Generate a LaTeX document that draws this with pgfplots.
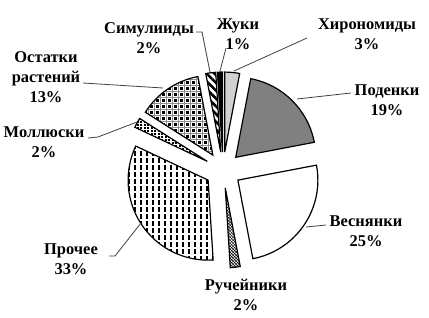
\documentclass[border=0pt]{standalone}
\usepackage{pgfplots}
\pgfplotsset{compat=1.18}
\usepackage{pgfplotstable}
\usepackage{fontspec}
\setmainfont{Liberation Serif}
\usetikzlibrary{patterns,patterns.meta}

\pgfdeclarepatternformonly{vdash}{\pgfpoint{-1bp}{-1bp}}{\pgfpoint{7bp}{8bp}}{\pgfpoint{6bp}{7bp}}{%
  \pgfsetlinewidth{1.1bp}%
  \pgfpathmoveto{\pgfpoint{3bp}{1bp}}\pgfpathlineto{\pgfpoint{3bp}{5.5bp}}\pgfusepath{stroke}}
\pgfdeclarepatternformonly{mdots}{\pgfpoint{-1bp}{-1bp}}{\pgfpoint{4bp}{4bp}}{\pgfpoint{3.5bp}{3bp}}{%
  \pgfpathrectangle{\pgfpoint{0bp}{0bp}}{\pgfpoint{2.2bp}{1.6bp}}\pgfusepath{fill}}
\pgfdeclarepatterninherentlycolored{plaid}{\pgfpoint{-1bp}{-1bp}}{\pgfpoint{7bp}{7bp}}{\pgfpoint{6bp}{6bp}}{%
  \pgfsetfillcolor{black}%
  \pgfpathrectangle{\pgfpoint{0bp}{0bp}}{\pgfpoint{3bp}{3bp}}\pgfusepath{fill}%
  \pgfsetstrokecolor{black!45}\pgfsetlinewidth{0.9bp}%
  \pgfpathmoveto{\pgfpoint{-1bp}{4.5bp}}\pgfpathlineto{\pgfpoint{7bp}{4.5bp}}\pgfusepath{stroke}%
  \pgfpathmoveto{\pgfpoint{4.5bp}{-1bp}}\pgfpathlineto{\pgfpoint{4.5bp}{7bp}}\pgfusepath{stroke}}

\pgfplotstableread[col sep=comma]{
name,value,explode
Хирономиды,3,18
Поденки,19,18
Веснянки,25,18
Ручейники,2,18
Прочее,33,18
Моллюски,2,18
Остатки растений,13,18
Симулииды,2,18
Жуки,1,18
}\piedata

\tikzset{
  s0/.style={fill=black!18},
  s1/.style={fill=black!50},
  s2/.style={fill=white},
  s3/.style={pattern=crosshatch},
  s4/.style={pattern=vdash},
  s5/.style={pattern=mdots},
  s6/.style={pattern=plaid},
  s7/.style={pattern={Lines[angle=-45,distance=5.5bp,line width=2.6bp]}},
  s8/.style={fill=black},
  lbl/.style={font=\bfseries\fontsize{16.5}{20}\selectfont, align=center, inner sep=0pt},
  lead/.style={draw=black!75, line width=0.8bp},
}

\begin{document}
\begin{tikzpicture}
\gdef\cum{0}
\foreach \i in {0,...,8}{%
  \pgfplotstablegetelem{\i}{value}\of\piedata
  \let\v\pgfplotsretval
  \pgfplotstablegetelem{\i}{explode}\of\piedata
  \let\e\pgfplotsretval
  \pgfmathsetmacro\a{90-3.6*\cum}%
  \pgfmathsetmacro\newcum{\cum+\v}%
  \pgfmathsetmacro\b{90-3.6*\newcum}%
  \expandafter\xdef\csname sa\i\endcsname{\a}%
  \expandafter\xdef\csname sb\i\endcsname{\b}%
  \expandafter\xdef\csname se\i\endcsname{\e}%
  \xdef\cum{\newcum}%
}
\begin{axis}[
  x=1bp, y=1bp, y dir=reverse,
  xmin=0, xmax=429, ymin=0, ymax=318,
  hide axis, clip=false, scale only axis,
]
\path (axis cs:0,0) -- (axis cs:429,318);
\pgfplotsinvokeforeach{0,1,2,3,4,5,6,7,8}{%
  \draw[line width=1.2bp, s#1,
        shift={({(\csname sa#1\endcsname+\csname sb#1\endcsname)/2}:\csname se#1\endcsname bp)}]
    (axis cs:223,170) -- ++(\csname sa#1\endcsname:80bp)
    arc[start angle=\csname sa#1\endcsname, end angle=\csname sb#1\endcsname, radius=80bp] -- cycle;
}
% leader lines
\draw[lead] (axis cs:307,38) -- (axis cs:234,71);
\draw[lead] (axis cs:351,93) -- (axis cs:297,99);
\draw[lead] (axis cs:326,225) -- (axis cs:306,227);
\draw[lead] (axis cs:109,256) -- (axis cs:115,256) -- (axis cs:141,223);
\draw[lead] (axis cs:88,138) -- (axis cs:98,137) -- (axis cs:137,122);
\draw[lead] (axis cs:83,83) -- (axis cs:163,88);
\draw[lead] (axis cs:196,32) -- (axis cs:202,32) -- (axis cs:210,72);
\draw[lead] (axis cs:226,48) -- (axis cs:220,71);
% labels
\node[lbl] at (axis cs:367,34) {Хирономиды\\3\%};
\node[lbl] at (axis cs:238,34) {Жуки\\1\%};
\node[lbl] at (axis cs:149,38) {Симулииды\\2\%};
\node[lbl] at (axis cs:387,100) {Поденки\\19\%};
\node[lbl] at (axis cs:366,231) {Веснянки\\25\%};
\node[lbl] at (axis cs:246,295) {Ручейники\\2\%};
\node[lbl] at (axis cs:71,259) {Прочее\\33\%};
\node[lbl] at (axis cs:44,142) {Моллюски\\2\%};
\node[lbl] at (axis cs:46,77) {Остатки\\растений\\13\%};
\end{axis}
\end{tikzpicture}
\end{document}
